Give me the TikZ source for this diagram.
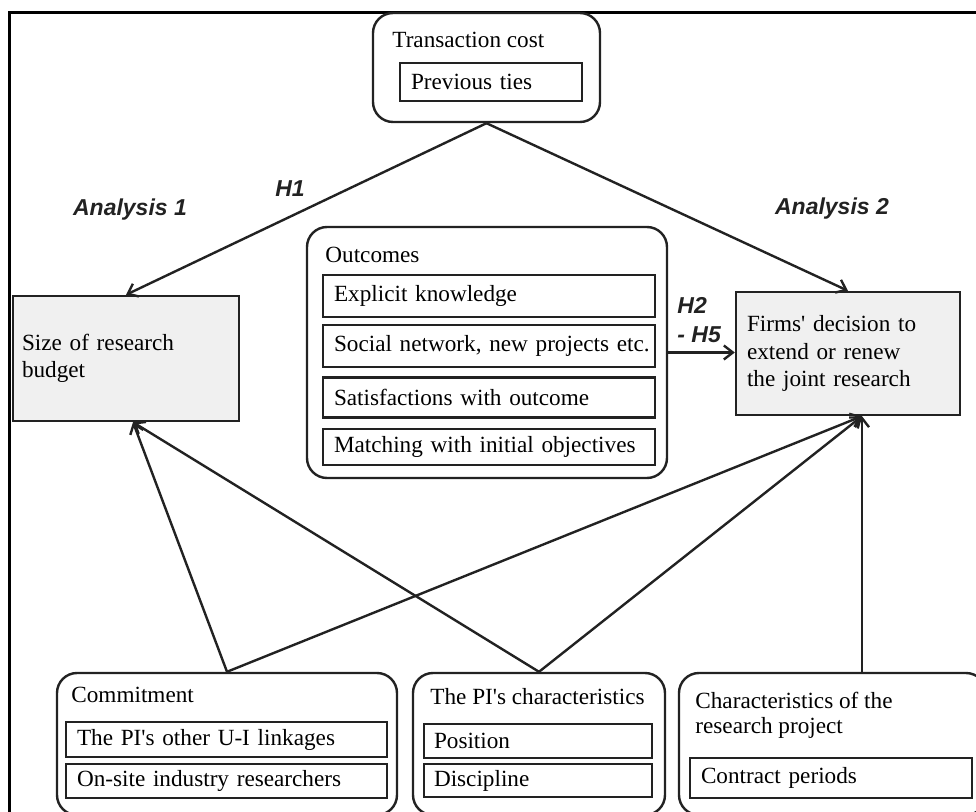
\documentclass[tikz,border=0pt]{standalone}
\usepackage{fontspec}
\setmainfont{Liberation Serif}
\newfontfamily\labelfont{Liberation Sans}
\usetikzlibrary{positioning, arrows.meta}
\definecolor{boxgray}{HTML}{F0F0F0}
\definecolor{linegray}{HTML}{222222}

\begin{document}
\begin{tikzpicture}[
			x=0.5pt, y=-0.5pt,
			font=\fontsize{11.6}{13.75}\selectfont,
			group/.style={
				draw=linegray,
				line width=1.2pt,
				rounded corners=10pt,
				inner sep=0pt
			},
			item/.style={
				draw=linegray,
				line width=1.2pt,
				rectangle,
				inner xsep=5.5pt,
				inner ysep=0pt,
				align=left
			},
			target/.style={
				item,
				fill=boxgray
			},
			title/.style={
				inner sep=0pt,
				anchor=base west
			},
			hyp/.style={
				font=\labelfont\fontsize{11.5}{14.5}\selectfont\bfseries\itshape,
				text=linegray
			},
			arrowline/.style={
				draw=linegray,
				line width=1.2pt,
				-{Straight Barb[length=4.5pt, width=7pt]}
			}
			]
			
			\useasboundingbox (0,0) rectangle (976,812);
			\clip (0,0) rectangle (976,812);
			
			% Frame
			\draw[line width=1.5pt] (9,812) -- (9,13) -- (976,13);
			
			% Top group
			\node[group, minimum width=113.5pt, minimum height=54.5pt] (cost) at (486.5,67.5) {};
			\node[title] (costtitle) at (392,48) {Transaction cost};
			\node[item, text width=80pt, minimum height=19pt] (ties) at (491,82) {Previous ties};
			
			% Dependent variables
			\node[target, inner xsep=4.5pt, text width=104pt, minimum height=62.5pt] (size) at (126,358.5) {Size of research\\budget};
			\node[target, text width=101pt, minimum height=61.5pt] (firms) at (848,353.5) {Firms\textquotesingle{} decision to\\extend or renew\\the joint research};
			
			% Middle group
			\node[group, minimum width=180pt, minimum height=125.5pt] (outc) at (487,352.5) {};
			\node[title] (outctitle) at (325,263) {Outcomes};
			\node[item, text width=155pt, minimum height=21pt] (explicit) at (489,296) {Explicit knowledge};
			\node[item, text width=155pt, minimum height=21pt] (social) at (489,346) {\mbox{Social network, new projects etc.}};
			\node[item, text width=155pt, minimum height=20pt] (satis) at (489,397.5) {Satisfactions with outcome};
			\node[item, text width=155pt, minimum height=18pt] (match) at (489,447) {Matching with initial objectives};
			
			% Bottom groups
			\node[group, minimum width=170pt, minimum height=71pt] (commit) at (227,744) {};
			\node[title] (committitle) at (71,703) {Commitment};
			\node[item, text width=149.5pt, minimum height=17.5pt] (linkage) at (226.5,739.5) {The PI\textquotesingle s other U-I linkages};
			\node[item, text width=149.5pt, minimum height=17pt] (onsite) at (226.5,781) {On-site industry researchers};
			
			\node[group, minimum width=126pt, minimum height=71pt] (pi) at (539,744) {};
			\node[title] (pititle) at (430,705) {The PI\textquotesingle s characteristics};
			\node[item, inner xsep=5pt, text width=104pt, minimum height=17pt] (position) at (538,741) {Position};
			\node[item, inner xsep=5pt, text width=104pt, minimum height=16.5pt] (discipline) at (538,780.5) {Discipline};
			
			\node[group, minimum width=153.5pt, minimum height=71pt] (proj) at (832.5,744) {};
			\node[inner sep=0pt, anchor=north west, align=left, font=\fontsize{11.6}{12.5}\selectfont] (projtitle) at (695,692) {Characteristics of the\\research project};
			\node[item, text width=130pt, minimum height=20pt] (contract) at (831,778) {Contract periods};
			
			% Labels
			\node[hyp] (ana1) at (130,210) {Analysis 1};
			\node[hyp] (ana2) at (832,209) {Analysis 2};
			\node[hyp] (h1) at (290,189) {H1};
			\node[hyp, align=left, anchor=west, inner sep=0pt] (h25) at (677,320) {H2\\- H5};
			
			% Connectors
			\coordinate (sizein) at ([xshift=3.5pt]size.south);
			\coordinate (firmsin) at ([xshift=7pt]firms.south);
			\draw[arrowline] (cost.south) -- (size.north);
			\draw[arrowline] (cost.south) -- (firms.north);
			\draw[arrowline] (outc.east) -- (outc.east -| firms.west);
			\draw[arrowline] (commit.north) -- (sizein);
			\draw[arrowline] (commit.north) -- (firmsin);
			\draw[arrowline] (pi.north) -- (sizein);
			\draw[arrowline] (pi.north) -- (firmsin);
			\draw[arrowline] (proj.north -| firmsin) -- (firmsin);
			
		\end{tikzpicture}
\end{document}
